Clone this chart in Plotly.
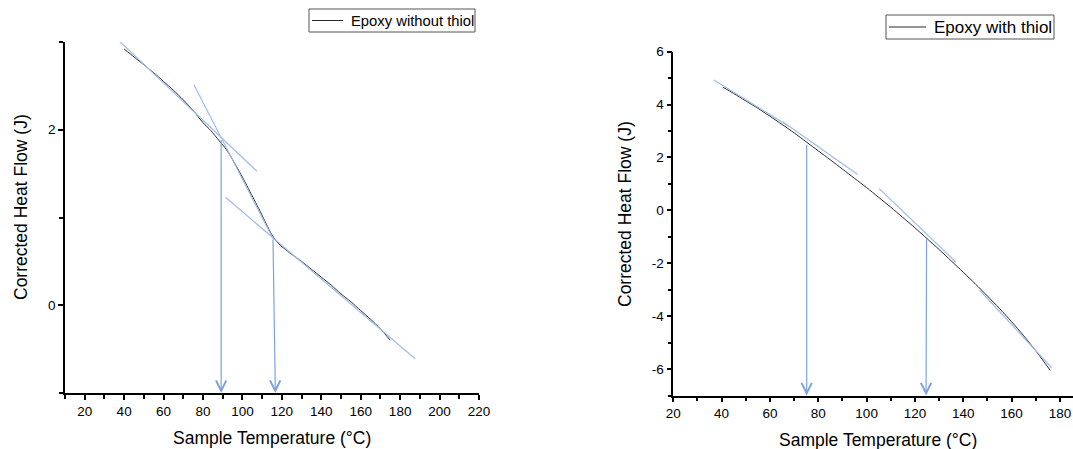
import plotly.graph_objects as go

# ---- Epoxy without thiol ----
temp_a = [40, 45, 50, 55, 60, 65, 70, 75, 80, 84, 88, 91, 94, 97, 100, 103, 106,
          109, 112, 115, 118, 121, 125, 130, 135, 140, 145, 150, 155, 160, 165, 170, 175]
heat_a = [2.92, 2.83, 2.74, 2.65, 2.55, 2.45, 2.34, 2.22, 2.08, 1.99, 1.88, 1.80, 1.70,
          1.58, 1.46, 1.33, 1.20, 1.07, 0.93, 0.80, 0.71, 0.65, 0.58, 0.50, 0.41, 0.32,
          0.23, 0.13, 0.04, -0.06, -0.16, -0.27, -0.40]
# tangent construction lines: (x0, x1), (y0, y1)
tan_a_x = [(34.0, 107.4), (75.4, 115.9), (91.4, 187.6)]
tan_a_y = [(3.086, 1.526), (2.514, 0.743), (1.23, -0.61)]
# transition arrows: top x, tip x, top y
arrow_a_top_x = [89.2, 115.5]
arrow_a_tip_x = [89.2, 116.7]
arrow_a_top_y = [1.90, 0.76]
ytick_a = [0, 2]

# ---- Epoxy with thiol ----
temp_b = [40.7, 45, 50, 55, 60, 65, 70, 75, 80, 85, 90, 95, 100, 105, 110, 115, 120,
          125, 130, 135, 140, 145, 150, 155, 160, 165, 170, 176]
heat_b = [4.65, 4.42, 4.14, 3.86, 3.56, 3.25, 2.93, 2.59, 2.25, 1.91, 1.56, 1.21, 0.86,
          0.49, 0.12, -0.27, -0.66, -1.07, -1.48, -1.91, -2.34, -2.78, -3.24, -3.71,
          -4.21, -4.74, -5.31, -6.05]
tan_b_x = [(36.8, 68.0), (65.3, 96.3), (105.2, 137.0), (146.9, 176.5)]
tan_b_y = [(4.93, 3.17), (3.35, 1.36), (0.82, -1.96), (-3.03, -5.94)]
arrow_b_top_x = [75.2, 124.8]
arrow_b_tip_x = [75.2, 124.6]
arrow_b_top_y = [2.53, -1.04]
ytick_b = [-6, -4, -2, 0, 2, 4, 6]

legend_names = ["Epoxy without thiol", "Epoxy with thiol"]
x_title = "Sample Temperature (°C)"
y_title = "Corrected Heat Flow (J)"

FONT = "Liberation Sans, Arial, sans-serif"
TAN_COLOR = "#9fbbea"
ARROW_COLOR = "#7ea3df"
CURVE_COLOR = "#2b2b2b"

X_RANGE_A = [10, 220]
Y_RANGE_A = [-1, 3]
X_RANGE_B = [20, 185.4]
Y_RANGE_B = [-7, 6]

W, H = 1073, 449


def px_x(p):
    return p / W


def px_y(p):
    return 1 - p / H


fig = go.Figure()

fig.add_trace(go.Scatter(x=temp_a, y=heat_a, mode="lines", name=legend_names[0],
                         line=dict(color=CURVE_COLOR, width=1, shape="spline", smoothing=0.8),
                         xaxis="x", yaxis="y", showlegend=False))
for xs, ys in zip(tan_a_x, tan_a_y):
    fig.add_trace(go.Scatter(x=list(xs), y=list(ys), mode="lines", showlegend=False,
                             line=dict(color=TAN_COLOR, width=1.2), xaxis="x", yaxis="y",
                             hoverinfo="skip"))

fig.add_trace(go.Scatter(x=temp_b, y=heat_b, mode="lines", name=legend_names[1],
                         line=dict(color=CURVE_COLOR, width=1, shape="spline", smoothing=0.8),
                         xaxis="x2", yaxis="y2", showlegend=False))
for xs, ys in zip(tan_b_x, tan_b_y):
    fig.add_trace(go.Scatter(x=list(xs), y=list(ys), mode="lines", showlegend=False,
                             line=dict(color=TAN_COLOR, width=1.2), xaxis="x2", yaxis="y2",
                             hoverinfo="skip"))

annotations = []
for tx, px, ty in zip(arrow_a_tip_x, arrow_a_top_x, arrow_a_top_y):
    annotations.append(dict(x=tx, y=Y_RANGE_A[0], ax=px, ay=ty, xref="x", yref="y",
                            axref="x", ayref="y", text="", showarrow=True, arrowhead=5,
                            arrowsize=1.7, arrowwidth=1.2, arrowcolor=ARROW_COLOR))
for tx, px, ty in zip(arrow_b_tip_x, arrow_b_top_x, arrow_b_top_y):
    annotations.append(dict(x=tx, y=Y_RANGE_B[0], ax=px, ay=ty, xref="x2", yref="y2",
                            axref="x2", ayref="y2", text="", showarrow=True, arrowhead=5,
                            arrowsize=1.7, arrowwidth=1.2, arrowcolor=ARROW_COLOR))

# axis titles
title_font = dict(family=FONT, size=17.5, color="black")
for cx, cy in [(272, 438), (878, 440)]:
    annotations.append(dict(text=x_title, x=px_x(cx), y=px_y(cy), xref="paper", yref="paper",
                            xanchor="center", yanchor="middle", showarrow=False,
                            font=title_font))
for cx, cy in [(21, 207), (625, 214)]:
    annotations.append(dict(text=y_title, x=px_x(cx), y=px_y(cy), xref="paper", yref="paper",
                            xanchor="center", yanchor="middle", showarrow=False,
                            textangle=-90, font=title_font))

# legend boxes: (left, top, right, bottom), sample line end, text size
shapes = []
legend_boxes = [((309, 9, 475, 32), 343, 14.8), ((886, 15, 1054, 39), 926, 17)]
for name, ((l, t, r, b), sample_end, fsize) in zip(legend_names, legend_boxes):
    shapes.append(dict(type="rect", xref="paper", yref="paper",
                       x0=px_x(l), x1=px_x(r), y0=px_y(b), y1=px_y(t),
                       line=dict(color="#555", width=1), fillcolor="white", layer="above"))
    mid = (t + b) / 2
    shapes.append(dict(type="line", xref="paper", yref="paper",
                       x0=px_x(l + 3), x1=px_x(sample_end), y0=px_y(mid), y1=px_y(mid),
                       line=dict(color=CURVE_COLOR, width=1), layer="above"))
    annotations.append(dict(text=name, x=px_x(sample_end + 6), y=px_y(mid + 0.5),
                            xref="paper", yref="paper", xanchor="left", yanchor="middle",
                            showarrow=False,
                            font=dict(family=FONT, size=fsize, color="black")))


def axis_style(rng, dtick, minor_dtick, domain, anchor, tickvals=None):
    d = dict(range=rng, domain=domain, anchor=anchor, tickmode="linear", tick0=0,
             dtick=dtick, ticks="outside", ticklen=5, tickwidth=1.5, tickcolor="black",
             showline=True, linewidth=1.5, linecolor="black", showgrid=False,
             zeroline=False, automargin=False,
             tickfont=dict(family=FONT, size=13.5, color="black"),
             minor=dict(tickmode="linear", tick0=0, dtick=minor_dtick, ticks="outside",
                        ticklen=4, tickwidth=1.5, tickcolor="black", showgrid=False))
    if tickvals is not None:
        # plain hyphen for negative numbers
        d.update(tickmode="array", tickvals=tickvals, ticktext=[str(v) for v in tickvals])
    return d


fig.update_layout(
    width=W, height=H,
    margin=dict(l=0, r=0, t=0, b=0, pad=0),
    paper_bgcolor="white", plot_bgcolor="white",
    font=dict(family=FONT, color="black"),
    xaxis=axis_style(X_RANGE_A, 20, 10, [px_x(65), px_x(479)], "y"),
    yaxis=axis_style(Y_RANGE_A, 2, 1, [px_y(393), px_y(42)], "x", ytick_a),
    xaxis2=axis_style(X_RANGE_B, 20, 10, [px_x(673.3), 1.0], "y2"),
    yaxis2=axis_style(Y_RANGE_B, 2, 1, [px_y(395.5), px_y(51.7)], "x2", ytick_b),
    annotations=annotations,
    shapes=shapes,
    showlegend=False,
)

fig.write_html("out.html")
